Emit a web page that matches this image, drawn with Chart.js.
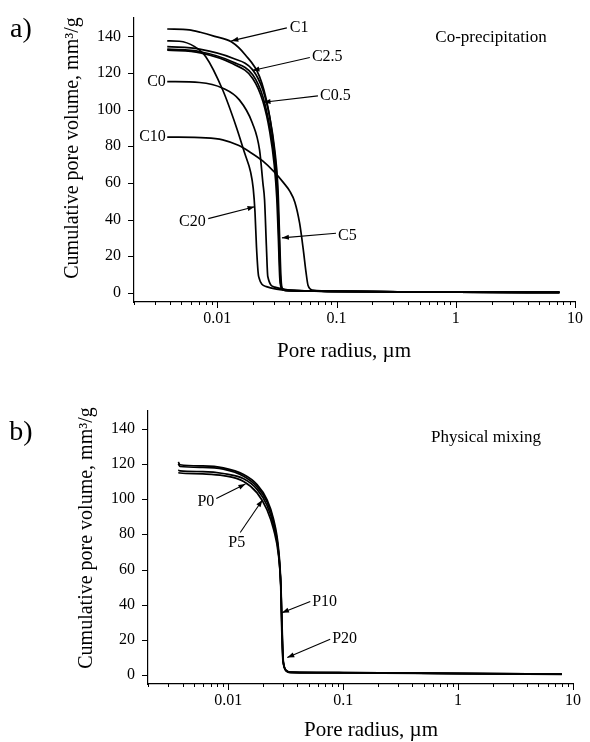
<!DOCTYPE html>
<html>
<head>
<meta charset="utf-8">
<script src="https://cdn.jsdelivr.net/npm/chart.js@4.4.1/dist/chart.umd.min.js"></script>
<style>
  body { margin: 0; background: #fff; }
  #wrap { position: relative; width: 590px; height: 742px; }
  canvas { position: absolute; left: 0; }
  #chartA { top: 0; }
  #chartB { top: 370px; }
</style>
</head>
<body>
<div id="wrap">
  <canvas id="chartA" width="590" height="370"></canvas>
  <canvas id="chartB" width="590" height="372"></canvas>
</div>
<script>
// axis labels
const xTickLabels = [0.01, 0.1, 1, 10];
const yTickLabels = [0, 20, 40, 60, 80, 100, 120, 140];

// a) co-precipitation: pore radius (um) / cumulative volume (mm3/g)
const c0R = [0.0038, 0.0071, 0.0111, 0.0153, 0.0197, 0.0226, 0.0241, 0.0249, 0.0258, 0.0265, 0.0303, 0.04, 0.1, 1, 7.4];
const c0V = [115.3, 114.8, 111.7, 105.3, 92.6, 78, 60, 50.7, 25.3, 8.9, 3.1, 1.5, 0.8, 0.4, 0.2];
const c05R = [0.0038, 0.0072, 0.0135, 0.0198, 0.0241, 0.0275, 0.0303, 0.0318, 0.0330, 0.0338, 0.0350, 0.040, 0.1, 1, 7.4];
const c05V = [133, 131.6, 126, 119, 107, 90.7, 72.6, 56, 30, 8, 2, 1.2, 0.8, 0.4, 0.2];
const c1R = [0.0038, 0.0058, 0.0072, 0.0095, 0.0131, 0.0172, 0.0226, 0.0265, 0.0293, 0.0313, 0.0322, 0.0332, 0.0340, 0.0360, 0.045, 0.1, 1, 7.4];
const c1V = [144, 143.5, 142.2, 140, 137, 129.8, 118, 101.6, 83.5, 65.4, 48, 20, 5, 1.8, 1.2, 0.8, 0.4, 0.2];
const c25R = [0.0038, 0.0071, 0.0135, 0.0198, 0.0241, 0.0275, 0.0303, 0.0322, 0.0333, 0.0342, 0.0354, 0.0405, 0.1, 1, 7.4];
const c25V = [134.4, 133, 128, 121.7, 110.7, 96, 78, 58, 30, 8, 2, 1.2, 0.8, 0.4, 0.2];
const c5R = [0.0038, 0.0072, 0.0135, 0.0198, 0.0241, 0.0275, 0.0300, 0.0315, 0.0325, 0.0334, 0.0348, 0.040, 0.1, 1, 7.4];
const c5V = [132.5, 131, 125, 117, 104.5, 88, 70, 52, 30, 8, 2, 1.2, 0.8, 0.4, 0.2];
const c10R = [0.0038, 0.0080, 0.0111, 0.0150, 0.0186, 0.0240, 0.0300, 0.0360, 0.0405, 0.0447, 0.0490, 0.0525, 0.0555, 0.0577, 0.063, 0.1, 1, 7.4];
const c10V = [85, 84.6, 83.5, 80.5, 77, 72, 66, 60, 55.5, 49.5, 38, 24, 11, 4, 1.5, 0.8, 0.4, 0.2];
const c20R = [0.0038, 0.0048, 0.0064, 0.0080, 0.0111, 0.0144, 0.0170, 0.0190, 0.0200, 0.0207, 0.0213, 0.0222, 0.0258, 0.0313, 0.04, 0.1, 1, 7.4];
const c20V = [137.5, 137.3, 134.5, 128.9, 110.7, 90.7, 76, 66, 57, 44, 25, 9, 3.4, 2, 1.3, 0.8, 0.4, 0.2];

// b) physical mixing
const p0R = [0.00367, 0.0038, 0.006, 0.00905, 0.0136, 0.0178, 0.0217, 0.0248, 0.0274, 0.0287, 0.0293, 0.0300, 0.0324, 0.0346, 0.1, 1, 8];
const p0V = [121, 119.5, 118.8, 117.7, 113.9, 108.2, 99.7, 88.4, 71.4, 50.6, 25, 8, 2.4, 1.7, 1.5, 1.0, 0.6];
const p5R = [0.00367, 0.0038, 0.006, 0.00905, 0.0136, 0.0178, 0.0217, 0.0248, 0.0273, 0.0286, 0.0292, 0.0299, 0.0322, 0.0345, 0.1, 1, 8];
const p5V = [120, 118.5, 118, 117, 113, 107, 98.5, 87, 70, 50, 25, 8, 2.5, 1.8, 1.5, 1.0, 0.6];
const p10R = [0.00367, 0.0038, 0.006, 0.00905, 0.0136, 0.0178, 0.0217, 0.0248, 0.0274, 0.0287, 0.0294, 0.0301, 0.0325, 0.0347, 0.1, 1, 8];
const p10V = [116.5, 116, 115.6, 114.5, 111.5, 105.5, 96.5, 85, 69.5, 49.5, 24, 7.5, 2.2, 1.6, 1.4, 0.9, 0.6];
const p20R = [0.00367, 0.0038, 0.006, 0.00905, 0.0136, 0.0178, 0.0217, 0.0248, 0.0274, 0.0288, 0.0295, 0.0302, 0.0326, 0.0348, 0.1, 1, 8];
const p20V = [115, 114.8, 114.3, 113.3, 110, 103.5, 94, 82.7, 67.6, 48, 24, 7, 2, 1.5, 1.3, 0.9, 0.5];

const seriesA = [['C0', c0R, c0V], ['C0.5', c05R, c05V], ['C1', c1R, c1V], ['C2.5', c25R, c25V],
  ['C5', c5R, c5V], ['C10', c10R, c10V], ['C20', c20R, c20V]];
const seriesB = [['P0', p0R, p0V], ['P5', p5R, p5V], ['P10', p10R, p10V], ['P20', p20R, p20V]];

// curve labels, in data units (text anchored at its left end unless align says so)
const notesA = [
  {text: 'C1', x: 0.0405, y: 144.6, from: [0.0383, 144.6], to: [0.0131, 137.5]},
  {text: 'C2.5', x: 0.0621, y: 128.7, from: [0.0597, 128.4], to: [0.0197, 121.3]},
  {text: 'C0.5', x: 0.0726, y: 107.5, from: [0.0698, 107.5], to: [0.0244, 104]},
  {text: 'C0', x: 0.0037, y: 115.3, align: 'right'},
  {text: 'C10', x: 0.0037, y: 85, align: 'right'},
  {text: 'C20', x: 0.00478, y: 38.7, from: [0.00839, 40.5], to: [0.0205, 47]},
  {text: 'C5', x: 0.103, y: 31, from: [0.099, 32.5], to: [0.0348, 30]}
];
const notesB = [
  {text: 'P0', x: 0.00538, y: 98.6, from: [0.00786, 100.3], to: [0.0141, 108.5]},
  {text: 'P5', x: 0.0100, y: 75.4, from: [0.0127, 81], to: [0.0198, 99.5]},
  {text: 'P10', x: 0.0537, y: 41.9, from: [0.0517, 41.9], to: [0.0293, 35.5]},
  {text: 'P20', x: 0.0802, y: 20.4, from: [0.0770, 20.4], to: [0.0326, 10]}
];

const serif = "'Liberation Serif', 'Times New Roman', serif";
const ink = '#000';

const isLabelled = v => xTickLabels.find(t => Math.abs(t - v) / t < 1e-6);

const buildLogTicks = (min, max) => {
  const ticks = [];
  for (let e = -3; e <= 1; e++) {
    for (let m = 1; m <= 9; m++) {
      const v = Number((m * Math.pow(10, e)).toPrecision(3));
      if (v >= min * 0.999 && v <= max * 1.001) ticks.push({value: v, major: m === 1});
    }
  }
  return ticks;
};

const figText = {
  id: 'figText',
  afterDraw(chart, args, opts) {
    const {ctx, scales: {x, y}} = chart;
    ctx.save();
    ctx.strokeStyle = '#000';
    ctx.fillStyle = ink;
    ctx.lineWidth = 1;

    // tick marks, long for labelled ones
    x.ticks.forEach(t => {
      const px = Math.round(x.getPixelForValue(t.value)) + 0.5;
      ctx.beginPath();
      ctx.moveTo(px, x.top);
      ctx.lineTo(px, x.top + (t.major ? 6 : 3));
      ctx.stroke();
    });
    y.ticks.forEach(t => {
      const py = Math.round(y.getPixelForValue(t.value)) + 0.5;
      ctx.beginPath();
      ctx.moveTo(y.right, py);
      ctx.lineTo(y.right - (t.major ? 6 : 3), py);
      ctx.stroke();
    });

    // curve labels with arrows
    ctx.font = '16px ' + serif;
    ctx.textBaseline = 'middle';
    ctx.lineWidth = 1.1;
    opts.notes.forEach(n => {
      ctx.textAlign = n.align || 'left';
      ctx.fillText(n.text, x.getPixelForValue(n.x), y.getPixelForValue(n.y));
      if (!n.from) return;
      const x1 = x.getPixelForValue(n.from[0]), y1 = y.getPixelForValue(n.from[1]);
      const x2 = x.getPixelForValue(n.to[0]), y2 = y.getPixelForValue(n.to[1]);
      ctx.beginPath();
      ctx.moveTo(x1, y1);
      ctx.lineTo(x2, y2);
      ctx.stroke();
      const a = Math.atan2(y2 - y1, x2 - x1);
      ctx.beginPath();
      ctx.moveTo(x2, y2);
      ctx.lineTo(x2 - 7 * Math.cos(a) + 2.5 * Math.sin(a), y2 - 7 * Math.sin(a) - 2.5 * Math.cos(a));
      ctx.lineTo(x2 - 7 * Math.cos(a) - 2.5 * Math.sin(a), y2 - 7 * Math.sin(a) + 2.5 * Math.cos(a));
      ctx.closePath();
      ctx.fill();
    });

    // panel letter, inset title, axis titles
    ctx.textAlign = 'center';
    ctx.font = '28px ' + serif;
    ctx.fillText(opts.panel, opts.panelAt[0], opts.panelAt[1]);
    ctx.font = '17px ' + serif;
    ctx.fillText(opts.title, opts.titleAt[0], opts.titleAt[1]);
    ctx.font = '21px ' + serif;
    ctx.textBaseline = 'alphabetic';
    ctx.fillText('Pore radius, \u00b5m', opts.xTitleAt[0], opts.xTitleAt[1]);
    ctx.translate(opts.yTitleAt[0], opts.yTitleAt[1]);
    ctx.rotate(-Math.PI / 2);
    ctx.textBaseline = 'middle';
    ctx.font = '20px ' + serif;
    ctx.fillText('Cumulative pore volume, mm\u00b3/g', 0, 0);
    ctx.restore();
  }
};

function makeChart(id, series, notes, geo, text) {
  const datasets = series.map(([name, r, v]) => ({
    label: name,
    data: r.map((rr, i) => ({x: rr, y: v[i]})),
    borderColor: '#000',
    borderWidth: 1.7,
    pointRadius: 0,
    fill: false,
    cubicInterpolationMode: 'monotone'
  }));

  return new Chart(document.getElementById(id), {
    type: 'line',
    data: {datasets},
    plugins: [figText],
    options: {
      responsive: false,
      animation: false,
      events: [],
      layout: {padding: {top: geo.top, right: geo.right, left: 0, bottom: 0}},
      plugins: {
        legend: {display: false},
        tooltip: {enabled: false},
        figText: Object.assign({notes}, text)
      },
      scales: {
        x: {
          type: 'logarithmic',
          min: 0.002,
          max: 10,
          afterBuildTicks: s => { s.ticks = buildLogTicks(0.002, 10); },
          afterFit: s => { s.height = geo.xHeight; },
          grid: {display: false, drawTicks: true, tickLength: 6},
          border: {display: true, color: '#000', width: 1.2},
          ticks: {
            autoSkip: false,
            maxRotation: 0,
            padding: 1,
            color: ink,
            font: {family: serif, size: 16},
            callback: v => { const t = isLabelled(v); return t === undefined ? '' : String(t); }
          }
        },
        y: {
          min: -5,
          max: 150,
          afterBuildTicks: s => {
            const ticks = [];
            for (let v = 0; v <= 150; v += 10) ticks.push({value: v, major: v % 20 === 0});
            s.ticks = ticks;
          },
          afterFit: s => { s.width = geo.yWidth; },
          grid: {display: false, drawTicks: true, tickLength: 6},
          border: {display: true, color: '#000', width: 1.2},
          ticks: {
            padding: 7,
            color: ink,
            font: {family: serif, size: 16},
            callback: v => yTickLabels.includes(v) ? String(v) : ''
          }
        }
      }
    }
  });
}

makeChart('chartA', seriesA, notesA,
  {top: 18, right: 15, yWidth: 134, xHeight: 68},
  {panel: 'a)', panelAt: [21, 30], title: 'Co-precipitation', titleAt: [491, 38],
   xTitleAt: [344, 357], yTitleAt: [73, 148]});

makeChart('chartB', seriesB, notesB,
  {top: 41, right: 17, yWidth: 148, xHeight: 58},
  {panel: 'b)', panelAt: [21, 63], title: 'Physical mixing', titleAt: [486, 68],
   xTitleAt: [371, 366], yTitleAt: [87, 168]});
</script>
</body>
</html>
